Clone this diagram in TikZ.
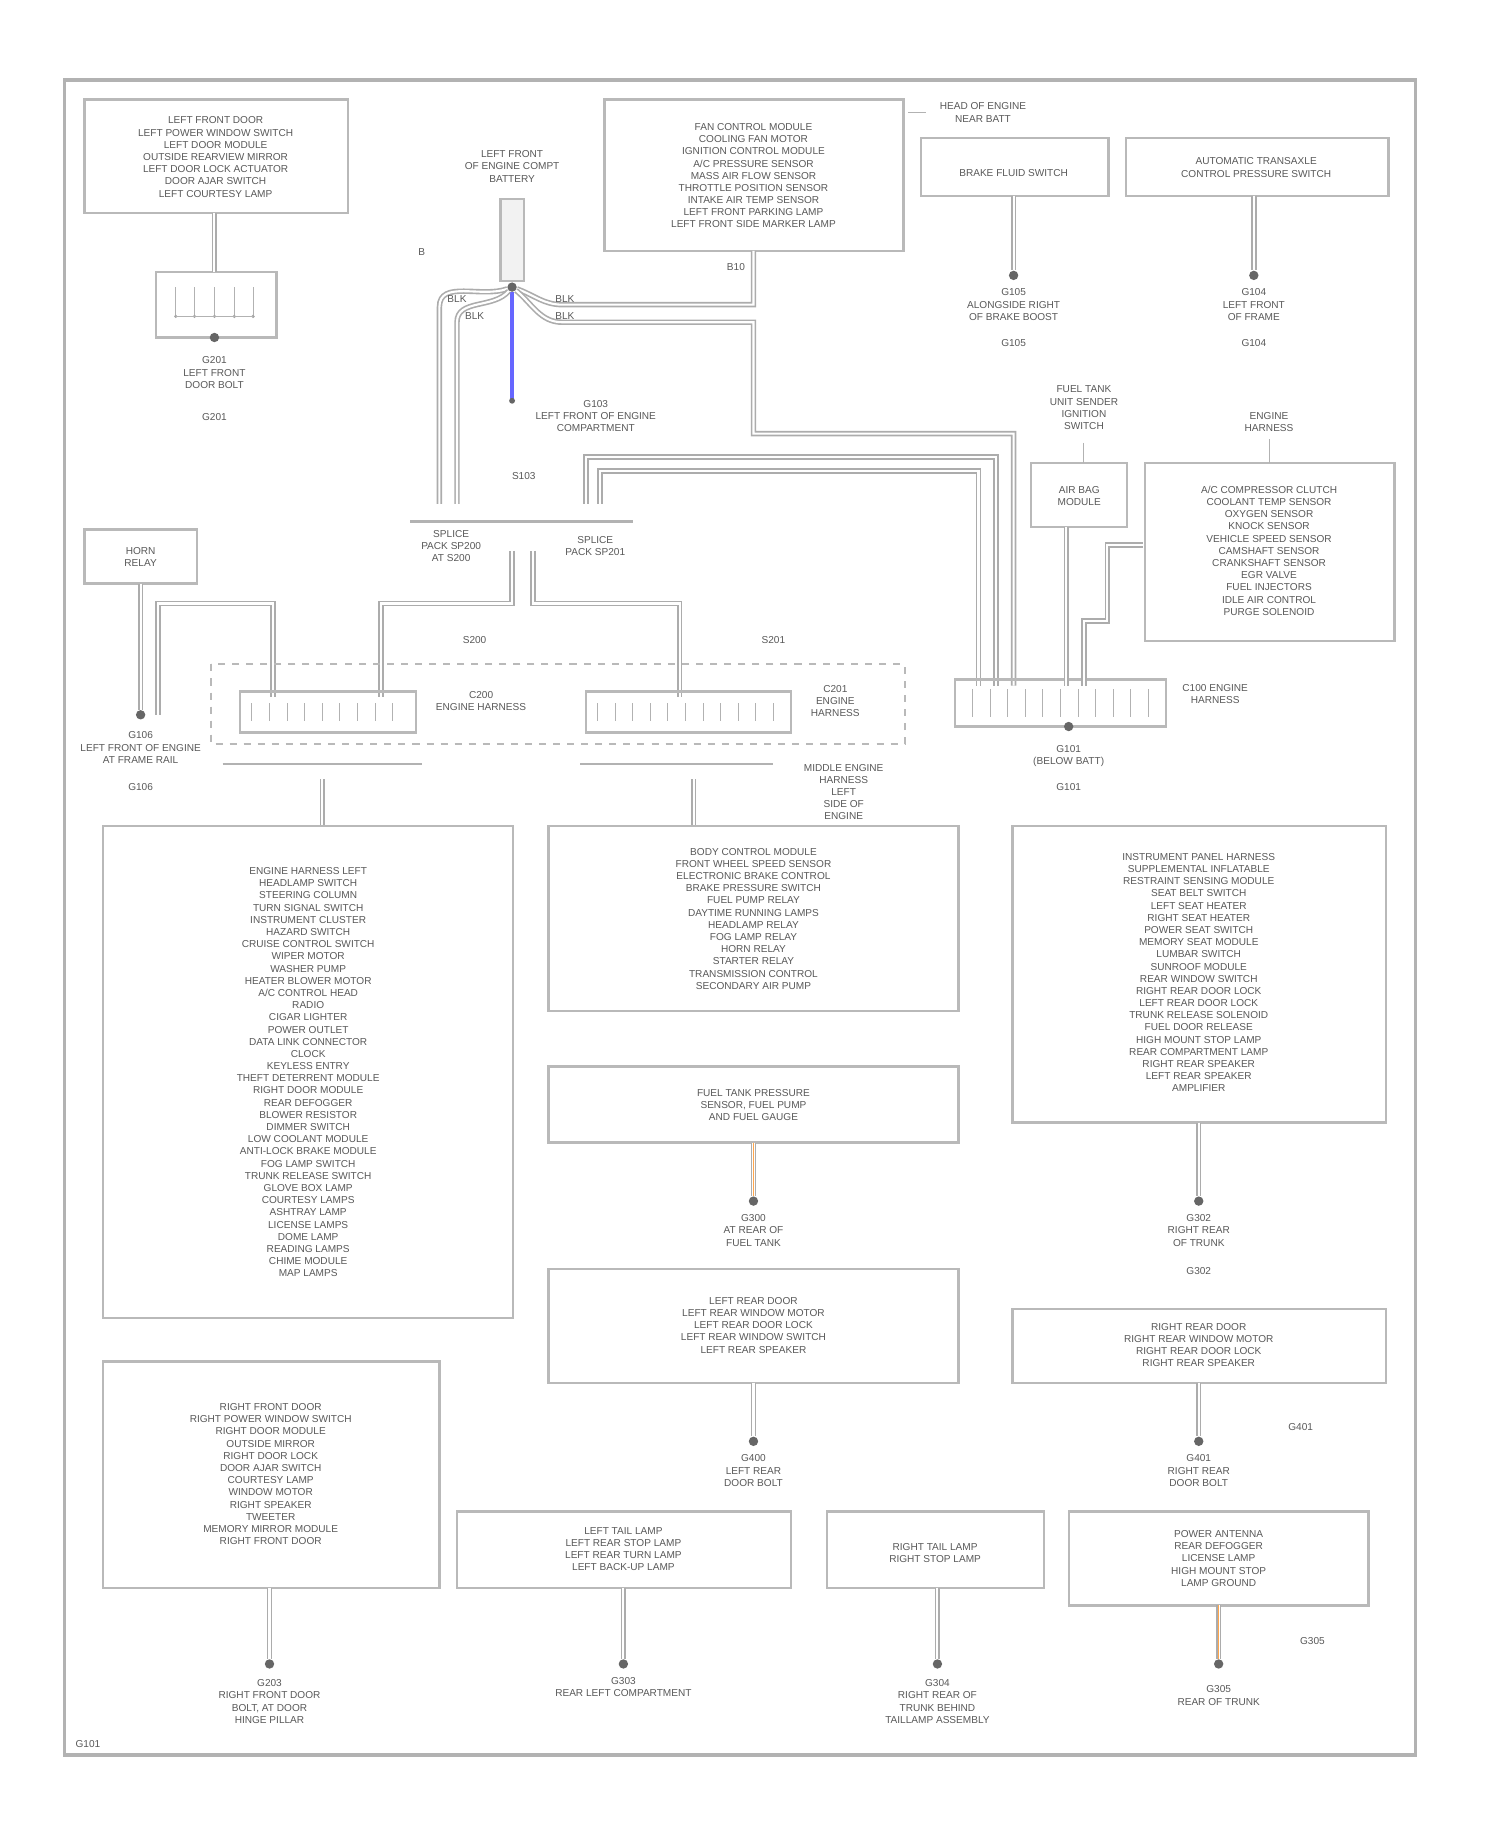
\documentclass[tikz,border=0pt]{standalone}
\usepackage{fontspec}
\setmainfont{Liberation Sans}
\begin{document}
\begin{tikzpicture}[x=0.5pt,y=-0.5pt,
  box/.style={draw=gray!55,line width=1pt},
  txt/.style={font=\fontsize{4.3}{5.2}\selectfont,text=gray!70!black,align=center,inner sep=0},
  wire/.style={draw=gray!65,double=white,double distance=0.9pt,line width=0.7pt},
  gdot/.style={circle,fill=gray!80!black,inner sep=0,minimum size=4pt},
  gl/.style={font=\fontsize{4.3}{5.2}\selectfont,text=gray!70!black,align=center}]
\useasboundingbox (0,0) rectangle (1280,1560);
\fill[white] (0,0) rectangle (1280,1560);
\draw[gray!60,line width=1.6pt] (55,68) rectangle (1208,1498);

% top-left
\draw[box] (72,85) rectangle (297,182);
\node[txt] (b1) at (184,134) {LEFT FRONT DOOR\\LEFT POWER WINDOW SWITCH\\LEFT DOOR MODULE\\OUTSIDE REARVIEW MIRROR\\LEFT DOOR LOCK ACTUATOR\\DOOR AJAR SWITCH\\LEFT COURTESY LAMP};
\draw[box] (133,232) rectangle (236,288);
\foreach \x in {150,166,183,200,216}{\draw[gray!60] (\x,245)--(\x,270); \fill[gray!70] (\x,270) circle(1.5);}
\draw[gray!60] (150,270)--(216,270);
\node[gdot] (g1) at (183,288) {};
\draw[wire] (183,182)--(183,232);
\node[gl] at (183,318) {G201\\LEFT FRONT\\DOOR BOLT};
\node[gl] at (183,356) {G201};

% battery
\draw[box,fill=gray!10] (427,170) rectangle (447,240);
\node[gl] (batl) at (437,142) {LEFT FRONT\\OF ENGINE COMPT\\BATTERY};
\node[gdot] (bat) at (437,245) {};
\node[gl] at (360,215) {B};
\coordinate (blue) at (437,342);
\draw[blue!60,line width=1.4pt] (bat)--(blue);
\fill[gray!80!black] (blue) circle(2.5);
\node[gl,anchor=west] at (450,355) {G103\\LEFT FRONT OF ENGINE\\COMPARTMENT};
\node[gl] at (447,406) {S103};

% B2
\draw[box] (516,85) rectangle (771,214);
\node[txt] (b2) at (643,150) {FAN CONTROL MODULE\\COOLING FAN MOTOR\\IGNITION CONTROL MODULE\\A/C PRESSURE SENSOR\\MASS AIR FLOW SENSOR\\THROTTLE POSITION SENSOR\\INTAKE AIR TEMP SENSOR\\LEFT FRONT PARKING LAMP\\LEFT FRONT SIDE MARKER LAMP};
\node[gl,anchor=west] at (795,96) {HEAD OF ENGINE\\NEAR BATT};
\draw[gray!60] (775,96)--(790,96);
\node[gl] at (628,228) {B10};

% wires from battery
\draw[wire] (bat) to[out=200,in=90] (375,262) -- (375,430);
\draw[wire] (bat) to[out=230,in=90] (390,275) -- (390,430);
\draw[wire] (bat) to[out=-20,in=180] (480,260) -- (643,260) -- (643,214);
\draw[wire] (bat) to[out=-40,in=180] (480,275) -- (643,275) -- (643,370) -- (865,370) -- (865,585);
\draw[wire] (500,430) -- (500,390) -- (850,390) -- (850,585);
\draw[wire] (512,430) -- (512,402) -- (835,402) -- (835,585);
\node[gl] at (390,255) {BLK};
\node[gl] at (405,270) {BLK};
\node[gl] at (482,255) {BLK};
\node[gl] at (482,270) {BLK};

% B3 B4
\draw[box] (786,118) rectangle (946,167);
\node[txt] (b3) at (865,148) {BRAKE FLUID SWITCH};
\node[gdot] (g3) at (865,235) {};
\draw[wire] (865,167)--(g3);
\node[gl] at (865,260) {G105\\ALONGSIDE RIGHT\\OF BRAKE BOOST};
\node[gl] at (865,293) {G105};
\draw[box] (961,118) rectangle (1185,167);
\node[txt] (b4) at (1072,143) {AUTOMATIC TRANSAXLE\\CONTROL PRESSURE SWITCH};
\node[gdot] (g4) at (1070,235) {};
\draw[wire] (1070,167)--(g4);
\node[gl] at (1070,260) {G104\\LEFT FRONT\\OF FRAME};
\node[gl] at (1070,293) {G104};

% splice
\draw[gray!60,line width=1pt] (350,445)--(540,445);
\node[gl] at (385,466) {SPLICE\\PACK SP200\\AT S200};
\node[gl] at (508,466) {SPLICE\\PACK SP201};
\draw[wire] (437,470)--(437,515)--(325,515)--(325,595);
\draw[wire] (455,470)--(455,515)--(580,515)--(580,595);
\node[gl] at (405,546) {S200}; \node[gl] at (660,546) {S201};

% small left box
\draw[box] (72,452) rectangle (168,498);
\node[txt] (b5) at (120,475) {HORN\\RELAY};
\node[gdot] (g5) at (120,610) {};
\draw[wire] (120,498)--(g5);
\draw[wire] (135,610)--(135,515)--(233,515)--(233,595);
\node[gl] at (120,638) {G106\\LEFT FRONT OF ENGINE\\AT FRAME RAIL};
\node[gl] at (120,672) {G106};

% dashed connector box
\draw[gray!55,dashed,line width=0.8pt] (180,567) rectangle (772,635);
\draw[box] (205,590) rectangle (355,625);
\foreach \x in {215,230,...,345}{\draw[gray!60] (\x,600)--(\x,615);}
\draw[box] (500,590) rectangle (675,625);
\foreach \x in {510,525,...,665}{\draw[gray!60] (\x,600)--(\x,615);}
\node[gl,anchor=west] at (365,598) {C200\\ENGINE HARNESS};
\node[gl,anchor=west] at (685,598) {C201\\ENGINE\\HARNESS};
\draw[box] (815,580) rectangle (995,620);
\foreach \x in {830,845,...,985}{\draw[gray!60] (\x,588)--(\x,612);}
\node[gl,anchor=west] at (1002,592) {C100 ENGINE\\HARNESS};
\node[gdot] (g6) at (912,620) {};
\node[gl] at (912,645) {G101\\(BELOW BATT)};
\node[gl] at (912,672) {G101};

% B6 B7
\draw[box] (880,395) rectangle (962,450);
\node[txt] (b6) at (921,423) {AIR BAG\\MODULE};
\node[gl] at (925,348) {FUEL TANK\\UNIT SENDER\\IGNITION\\SWITCH};
\draw[gray!60] (925,378)--(925,395);
\draw[box] (977,395) rectangle (1190,547);
\node[txt] (b7) at (1083,470) {A/C COMPRESSOR CLUTCH\\COOLANT TEMP SENSOR\\OXYGEN SENSOR\\KNOCK SENSOR\\VEHICLE SPEED SENSOR\\CAMSHAFT SENSOR\\CRANKSHAFT SENSOR\\EGR VALVE\\FUEL INJECTORS\\IDLE AIR CONTROL\\PURGE SOLENOID};
\node[gl] at (1083,360) {ENGINE\\HARNESS};
\draw[gray!60] (1083,375)--(1083,395);
\draw[wire] (910,450)--(910,585);
\draw[wire] (975,465)--(945,465)--(945,530)--(925,530)--(925,585);
\draw[gray!60,line width=1pt] (190,652)--(360,652);
\draw[gray!60,line width=1pt] (495,652)--(660,652);
\node[gl,anchor=north] at (720,645) {MIDDLE ENGINE\\HARNESS\\LEFT\\SIDE OF\\ENGINE};

% big boxes
\draw[wire] (275,665)--(275,705);
\draw[wire] (592,665)--(592,705);
\draw[box] (88,705) rectangle (438,1125);
\node[txt] (bl) at (263,915) {ENGINE HARNESS LEFT\\HEADLAMP SWITCH\\STEERING COLUMN\\TURN SIGNAL SWITCH\\INSTRUMENT CLUSTER\\HAZARD SWITCH\\CRUISE CONTROL SWITCH\\WIPER MOTOR\\WASHER PUMP\\HEATER BLOWER MOTOR\\A/C CONTROL HEAD\\RADIO\\CIGAR LIGHTER\\POWER OUTLET\\DATA LINK CONNECTOR\\CLOCK\\KEYLESS ENTRY\\THEFT DETERRENT MODULE\\RIGHT DOOR MODULE\\REAR DEFOGGER\\BLOWER RESISTOR\\DIMMER SWITCH\\LOW COOLANT MODULE\\ANTI-LOCK BRAKE MODULE\\FOG LAMP SWITCH\\TRUNK RELEASE SWITCH\\GLOVE BOX LAMP\\COURTESY LAMPS\\ASHTRAY LAMP\\LICENSE LAMPS\\DOME LAMP\\READING LAMPS\\CHIME MODULE\\MAP LAMPS};
\draw[box] (468,705) rectangle (818,863);
\node[txt] (bm1) at (643,784) {BODY CONTROL MODULE\\FRONT WHEEL SPEED SENSOR\\ELECTRONIC BRAKE CONTROL\\BRAKE PRESSURE SWITCH\\FUEL PUMP RELAY\\DAYTIME RUNNING LAMPS\\HEADLAMP RELAY\\FOG LAMP RELAY\\HORN RELAY\\STARTER RELAY\\TRANSMISSION CONTROL\\SECONDARY AIR PUMP};
\draw[box] (864,705) rectangle (1183,958);
\node[txt] (br1) at (1023,830) {INSTRUMENT PANEL HARNESS\\SUPPLEMENTAL INFLATABLE\\RESTRAINT SENSING MODULE\\SEAT BELT SWITCH\\LEFT SEAT HEATER\\RIGHT SEAT HEATER\\POWER SEAT SWITCH\\MEMORY SEAT MODULE\\LUMBAR SWITCH\\SUNROOF MODULE\\REAR WINDOW SWITCH\\RIGHT REAR DOOR LOCK\\LEFT REAR DOOR LOCK\\TRUNK RELEASE SOLENOID\\FUEL DOOR RELEASE\\HIGH MOUNT STOP LAMP\\REAR COMPARTMENT LAMP\\RIGHT REAR SPEAKER\\LEFT REAR SPEAKER\\AMPLIFIER};
\draw[box] (468,910) rectangle (818,975);
\node[txt] (bm2) at (643,943) {FUEL TANK PRESSURE\\SENSOR, FUEL PUMP\\AND FUEL GAUGE};
\node[gdot] (gm2) at (643,1025) {};
\draw[wire] (643,975)--(gm2);
\draw[orange!70,line width=0.6pt] (643,975)--(gm2);
\node[gl] at (643,1050) {G300\\AT REAR OF\\FUEL TANK};
\node[gdot] (gr1) at (1023,1025) {};
\draw[wire] (1023,958)--(gr1);
\node[gl] at (1023,1050) {G302\\RIGHT REAR\\OF TRUNK};
\node[gl] at (1023,1085) {G302};
\draw[box] (468,1083) rectangle (818,1180);
\node[txt] (bm3) at (643,1131) {LEFT REAR DOOR\\LEFT REAR WINDOW MOTOR\\LEFT REAR DOOR LOCK\\LEFT REAR WINDOW SWITCH\\LEFT REAR SPEAKER};
\node[gdot] (gm3) at (643,1230) {};
\draw[wire] (643,1180)--(gm3);
\node[gl] at (643,1255) {G400\\LEFT REAR\\DOOR BOLT};
\draw[box] (864,1117) rectangle (1183,1180);
\node[txt] (br2) at (1023,1148) {RIGHT REAR DOOR\\RIGHT REAR WINDOW MOTOR\\RIGHT REAR DOOR LOCK\\RIGHT REAR SPEAKER};
\node[gdot] (gr2) at (1023,1230) {};
\draw[wire] (1023,1180)--(gr2);
\node[gl] at (1023,1255) {G401\\RIGHT REAR\\DOOR BOLT};
\node[gl] at (1110,1218) {G401};
\draw[box] (88,1162) rectangle (375,1355);
\node[txt] (bl2) at (231,1258) {RIGHT FRONT DOOR\\RIGHT POWER WINDOW SWITCH\\RIGHT DOOR MODULE\\OUTSIDE MIRROR\\RIGHT DOOR LOCK\\DOOR AJAR SWITCH\\COURTESY LAMP\\WINDOW MOTOR\\RIGHT SPEAKER\\TWEETER\\MEMORY MIRROR MODULE\\RIGHT FRONT DOOR};
\node[gdot] (gl2) at (230,1420) {};
\draw[wire] (230,1355)--(gl2);
\node[gl] at (230,1452) {G203\\RIGHT FRONT DOOR\\BOLT, AT DOOR\\HINGE PILLAR};
\draw[box] (390,1290) rectangle (675,1355);
\node[txt] (bb1) at (532,1322) {LEFT TAIL LAMP\\LEFT REAR STOP LAMP\\LEFT REAR TURN LAMP\\LEFT BACK-UP LAMP};
\node[gdot] (gb1) at (532,1420) {};
\draw[wire] (532,1355)--(gb1);
\node[gl] at (532,1440) {G303\\REAR LEFT COMPARTMENT};
\draw[box] (706,1290) rectangle (891,1355);
\node[txt] (bb2) at (798,1325) {RIGHT TAIL LAMP\\RIGHT STOP LAMP};
\node[gdot] (gb2) at (800,1420) {};
\draw[wire] (800,1355)--(gb2);
\node[gl] at (800,1452) {G304\\RIGHT REAR OF\\TRUNK BEHIND\\TAILLAMP ASSEMBLY};
\draw[box] (912,1290) rectangle (1168,1370);
\node[txt] (bb3) at (1040,1330) {POWER ANTENNA\\REAR DEFOGGER\\LICENSE LAMP\\HIGH MOUNT STOP\\LAMP GROUND};
\node[gdot] (gb3) at (1040,1420) {};
\draw[wire] (1040,1370)--(gb3);
\draw[orange!70,line width=0.6pt] (1040,1370)--(gb3);
\node[gl] at (1040,1447) {G305\\REAR OF TRUNK};
\node[gl] at (1120,1400) {G305};
\node[gl] at (75,1488) {G101};
\end{tikzpicture}
\end{document}
